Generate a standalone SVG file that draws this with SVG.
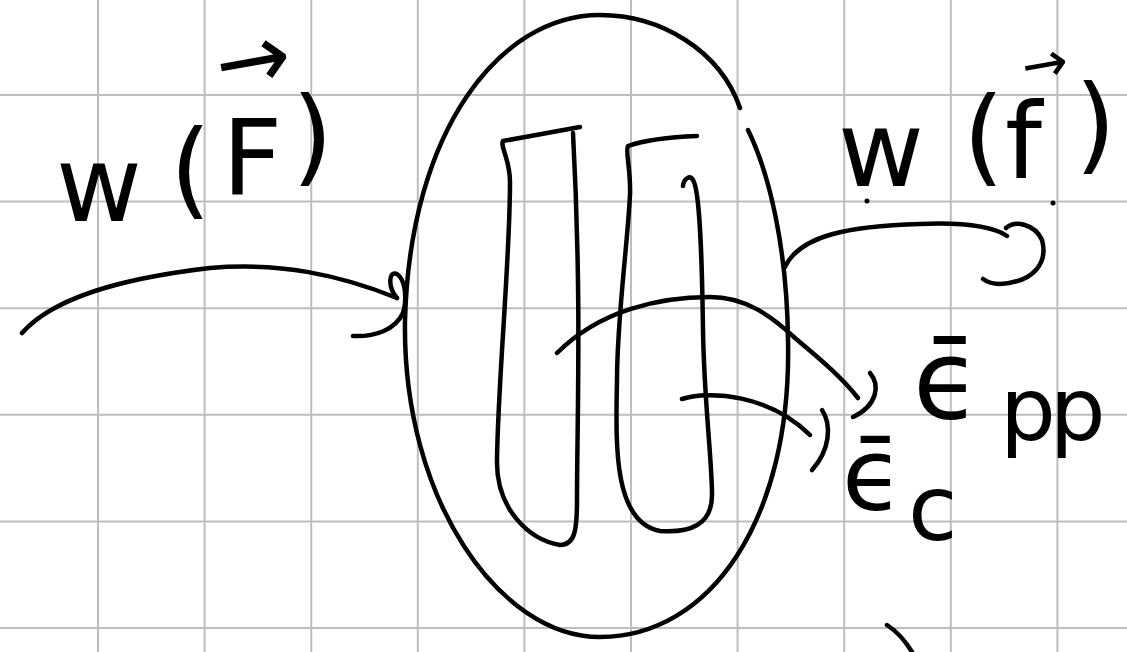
<svg xmlns="http://www.w3.org/2000/svg" width="1127" height="652" viewBox="0 0 1127 652">
<defs>
<style>
.grid line{stroke:#bdbdbd;stroke-width:2}
.ink{fill:none;stroke:#000;stroke-width:4.5;stroke-linecap:round;stroke-linejoin:round}
.lbl{font-family:"DejaVu Sans","Liberation Sans",sans-serif;fill:#000}
</style>
</defs>
<rect width="1127" height="652" fill="#fff"/>
<g class="grid">
<line x1="98" y1="0" x2="98" y2="652"/><line x1="204.6" y1="0" x2="204.6" y2="652"/><line x1="311.2" y1="0" x2="311.2" y2="652"/><line x1="417.8" y1="0" x2="417.8" y2="652"/><line x1="524.4" y1="0" x2="524.4" y2="652"/><line x1="631" y1="0" x2="631" y2="652"/><line x1="737.6" y1="0" x2="737.6" y2="652"/><line x1="844.2" y1="0" x2="844.2" y2="652"/><line x1="950.8" y1="0" x2="950.8" y2="652"/><line x1="1057.4" y1="0" x2="1057.4" y2="652"/>
<line x1="0" y1="95" x2="1127" y2="95"/><line x1="0" y1="201.6" x2="1127" y2="201.6"/><line x1="0" y1="308.2" x2="1127" y2="308.2"/><line x1="0" y1="414.8" x2="1127" y2="414.8"/><line x1="0" y1="521.4" x2="1127" y2="521.4"/><line x1="0" y1="628" x2="1127" y2="628"/>
</g>
<g id="cell">
<path class="ink" d="M 740 108 C 720 50, 660 15, 600 15 C 500 15, 410 130, 405 320 C 402 500, 500 637, 600 637 C 710 637, 792 520, 788 340 C 787 250, 770 175, 748 130"/>
</g>
<g id="tube1">
<path class="ink" d="M 580 127 L 503 141 C 500 146, 510 160, 510 182 C 510 260, 498 380, 497 460 C 496 510, 530 540, 560 545 C 575 545, 577 530, 577 500 C 577 420, 582 300, 573 133"/>
</g>
<g id="tube2">
<path class="ink" d="M 697 136 C 670 137, 645 140, 628 146 C 625 150, 631 170, 630 195 C 627 250, 617 320, 617 380 C 616 440, 612 522, 660 531 C 690 533, 712 525, 712 495 C 712 460, 704 400, 703 330 C 702 260, 700 190, 693 180 C 690 175, 684 178, 683 186"/>
</g>
<g id="label-wF">
<text class="lbl" font-size="105"><tspan x="56" y="221">w</tspan><tspan x="170" y="205">(</tspan><tspan x="222" y="195">F</tspan><tspan x="292" y="172">)</tspan></text>
<text class="lbl" font-size="90" x="216" y="90" transform="rotate(-10 254 64)">→</text>
</g>
<g id="label-wf">
<text class="lbl" font-size="105"><tspan x="838" y="186">w</tspan><tspan x="963" y="172">(</tspan><tspan x="1005" y="178">f</tspan><tspan x="1075" y="160">)</tspan></text>
<text class="lbl" font-size="55" x="1022" y="82" transform="rotate(-10 1046 66)">→</text>
<circle cx="867" cy="201" r="2.5"/><circle cx="1053" cy="203" r="2.5"/>
</g>
<g id="label-epp">
<text class="lbl"><tspan x="913" y="418" font-size="110">ϵ̄</tspan><tspan x="1000" y="440" font-size="88" letter-spacing="-6">pp</tspan></text>
</g>
<g id="label-ec">
<text class="lbl"><tspan x="842" y="510" font-size="100">ϵ̄</tspan><tspan x="908" y="540" font-size="90">c</tspan></text>
</g>
<g id="connectors">
<path class="ink" d="M 22 333 C 60 290, 150 275, 210 268 C 280 262, 340 275, 397 298"/>
<path class="ink" d="M 397 298 C 388 288, 388 270, 397 274 C 406 280, 407 300, 403 313 C 395 330, 375 337, 353 336"/>
<path class="ink" d="M 785 267 C 800 235, 850 226, 920 224 C 970 222, 995 228, 1007 236"/>
<path class="ink" d="M 1006 228 C 1015 220, 1035 224, 1042 240 C 1048 262, 1035 282, 1000 284 C 993 284, 987 282, 983 279"/>
<path class="ink" d="M 557 353 C 600 310, 660 297, 710 297 C 745 297, 770 315, 795 338 C 815 355, 840 375, 858 398"/>
<path class="ink" d="M 870 373 C 880 385, 878 405, 853 417"/>
<path class="ink" d="M 682 399 C 710 390, 770 395, 810 435"/>
<path class="ink" d="M 822 410 C 832 425, 830 450, 812 470"/>
<path class="ink" d="M 887 625 Q 902 635 912 652"/>
</g>
</svg>
